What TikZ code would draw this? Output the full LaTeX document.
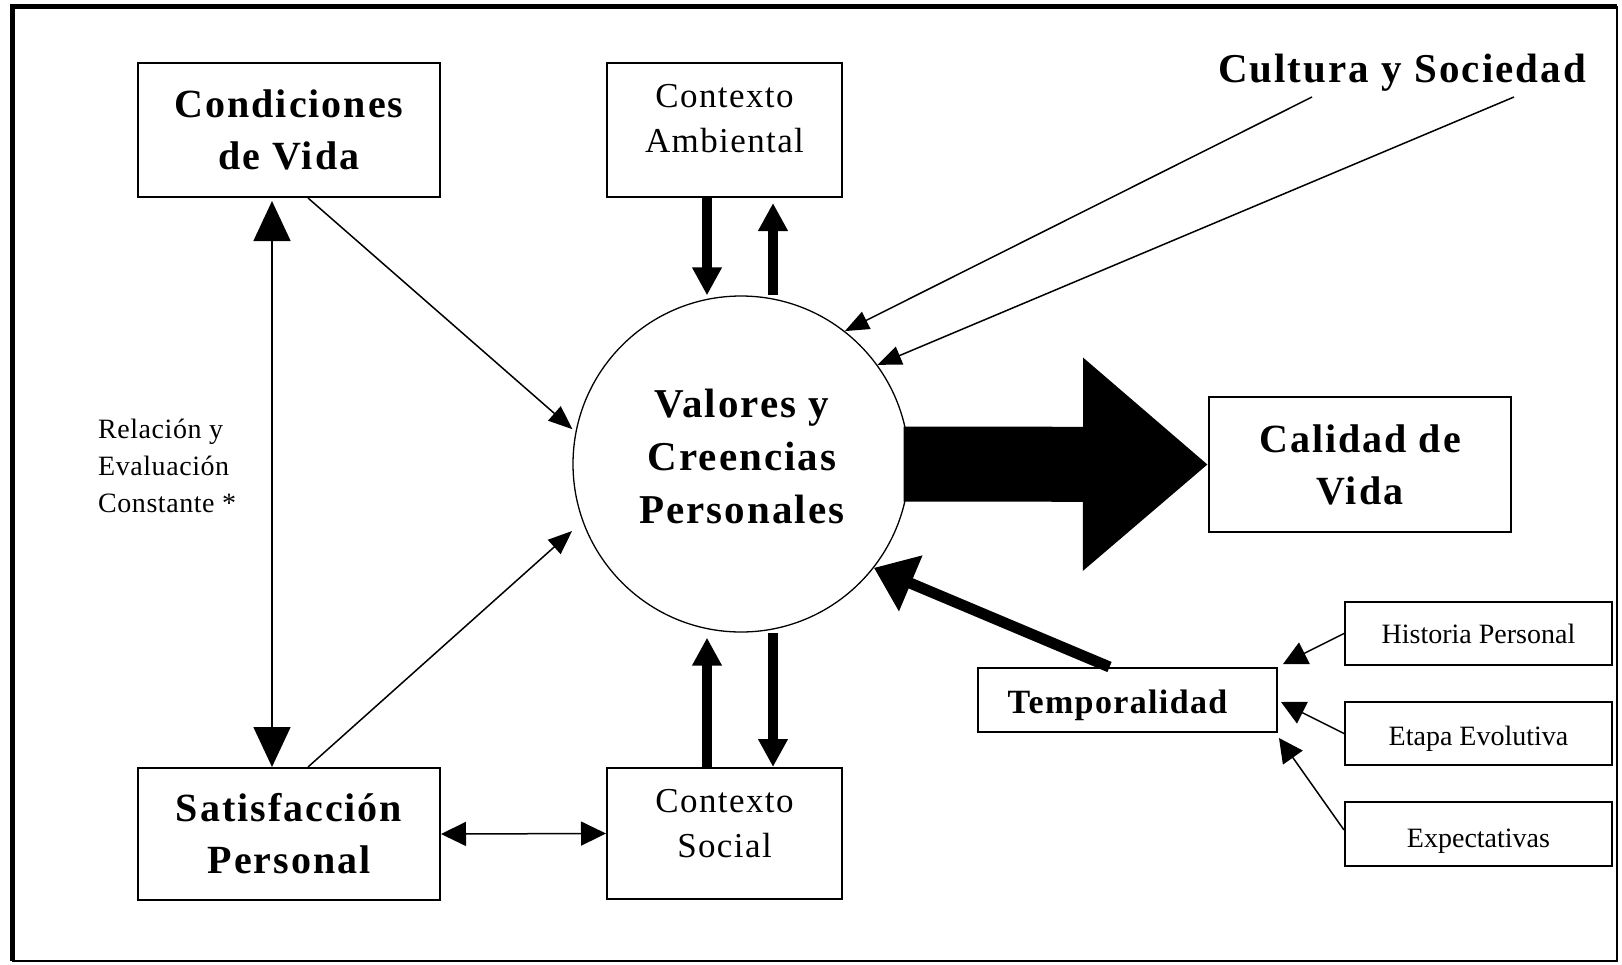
\documentclass[tikz,border=0pt]{standalone}
\usepackage{fontspec}
\setmainfont{Liberation Serif}
\newfontfamily\spc{Liberation Serif}[LetterSpace=5]
\newfontfamily\spr{Liberation Serif}[LetterSpace=4]
\newfontfamily\spl{Liberation Serif}[LetterSpace=2]
\usetikzlibrary{arrows.meta,calc}
\begin{document}
\begin{tikzpicture}[x=1pt,y=-1pt,
  box/.style={draw,line width=2,inner sep=0},
  bigtxt/.style={font=\spc\bfseries\fontsize{40}{52}\selectfont,align=center},
  midtxt/.style={font=\spr\fontsize{35}{45}\selectfont,align=center},
  smalltxt/.style={font=\fontsize{28}{34}\selectfont,align=center},
  thin/.style={line width=1.5,-{Triangle[length=24,width=19]}},
  fat/.style={line width=10,-{Triangle[length=28,width=28]}},
  dbl/.style={line width=1.5,{Triangle[length=40,width=37]}-{Triangle[length=40,width=37]}},
  hdbl/.style={line width=1.5,{Triangle[length=25,width=24]}-{Triangle[length=25,width=24]}},
  sm/.style={line width=1.5,-{Triangle[length=24,width=24]}}]
\useasboundingbox (0,0) rectangle (1622,964);
% frame
\draw[line width=5] (12,961) -- (12,6) -- (1617,6);
\draw[line width=2] (1617,6) -- (1617,961) -- (12,961);

% central circle
\node[circle,draw,line width=1.3,minimum size=336,inner sep=0] (circ) at (741,464) {};
\node[bigtxt,font=\spc\bfseries\fontsize{41}{53}\selectfont] (valtxt) at (742,456) {Valores y\\Creencias\\Personales};

% boxes
\node[box,bigtxt,minimum width=302,minimum height=134] (cond) at (289,130) {Condiciones\\de Vida};
\node[box,minimum width=235,minimum height=134] (amb) at (724.5,130) {};
\node[midtxt] (ambtxt) at (724.5,118.5) {Contexto\\Ambiental};
\node[box,bigtxt,minimum width=302,minimum height=132] (sat) at (289,834) {Satisfacción\\Personal};
\node[box,minimum width=235,minimum height=131] (soc) at (724.5,833.5) {};
\node[midtxt] (soctxt) at (724.5,823.5) {Contexto\\Social};
\node[box,bigtxt,minimum width=302,minimum height=135] (cal) at (1360,464.5) {Calidad de\\Vida};
\node[box,minimum width=299,minimum height=64] (temp) at (1127.5,700) {};
\node[font=\spr\bfseries\fontsize{34}{40}\selectfont] (temptxt) at (1117.5,705) {Temporalidad};
\node[box,smalltxt,minimum width=267,minimum height=63] (hist) at (1478.5,633.5) {Historia Personal};
\node[box,minimum width=267,minimum height=63] (etapa) at (1478.5,733.5) {};
\node[smalltxt] (etapatxt) at (1478.5,738.5) {Etapa Evolutiva};
\node[box,minimum width=267,minimum height=64] (expe) at (1478.5,834) {};
\node[smalltxt] (expetxt) at (1478.5,841.5) {Expectativas};

% free texts
\node[font=\spc\bfseries\fontsize{41}{49}\selectfont,anchor=base] (cult) at (1402,82) {Cultura y Sociedad};
\node[font=\spl\fontsize{28}{37}\selectfont,align=left,anchor=west,inner sep=0] (rel) at (98,466) {Relación y\\Evaluación\\Constante *};

\coordinate (cs1) at (1312,97);
\coordinate (cs2) at (1514,97);

% connectors
\draw[dbl,shorten <=3pt] ([xshift=-17]cond.south) -- ([xshift=-17]sat.north);
\draw[thin,shorten >=4pt] ([xshift=19]cond.south) -- (circ.169);
\draw[thin,shorten >=14pt] ([xshift=19]sat.north) -- (circ.200);
\draw[hdbl] (sat.east) -- (soc.west);

\draw[fat] ([xshift=-17.5]amb.south) -- ([xshift=-17.5]amb.south |- circ.north);
\draw[fat] ([xshift=48.5]amb.south |- circ.north) -- ([xshift=48.5,yshift=-5]amb.south);
\draw[fat,shorten >=5pt] ([xshift=-17.5]soc.north) -- ([xshift=-17.5]soc.north |- circ.south);
\draw[fat] ([xshift=48.5]soc.north |- circ.south) -- ([xshift=48.5]soc.north);

\draw[thin] (cs1) -- (circ.52);
\draw[thin] (cs2) -- (circ.36);

\draw[line width=11,-{Triangle[length=40,width=58]}] ([xshift=-18]temp.north) -- (circ.322.5);

\draw[line width=75,-{Triangle[length=125,width=205]}] ([xshift=-6]circ.east) -- (cal.west);

\draw[sm] (hist.west) -- ([xshift=5,yshift=3]temp.north east);
\draw[sm] (etapa.west) -- ([xshift=3,yshift=-2]temp.east);
\draw[sm] ([yshift=4]expe.west) -- ([xshift=1,yshift=-5]temp.south east);
\end{tikzpicture}
\end{document}
